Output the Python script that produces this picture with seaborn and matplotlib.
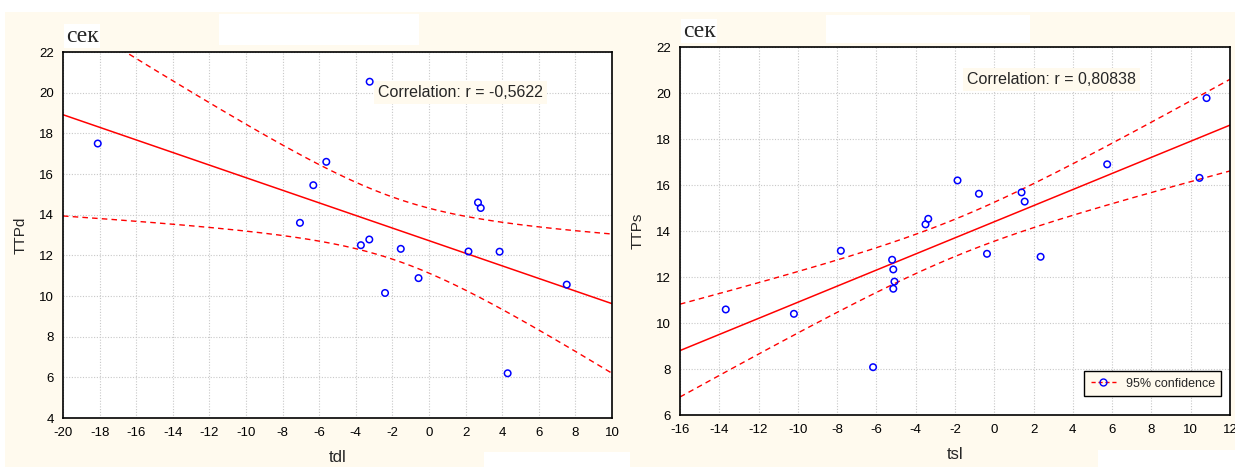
import numpy as np
import pandas as pd
import seaborn as sns
import matplotlib.pyplot as plt
from matplotlib.lines import Line2D
from matplotlib.patches import Rectangle

# left panel: tdl vs TTPd
tdl = [-18.1, -3.24, -5.61, -6.32, -7.05, 2.68, 2.83, -3.72, -3.26,
       -1.54, -2.4, -0.57, 2.16, 3.86, 4.3, 7.53]
ttpd = [17.5, 20.54, 16.6, 15.45, 13.6, 14.6, 14.33, 12.5, 12.78,
        12.32, 10.15, 10.88, 12.19, 12.18, 6.2, 10.56]

# right panel: tsl vs TTPs
tsl = [-13.67, -10.2, -7.81, -6.17, -5.2, -5.14, -5.08, -5.14, -0.37,
       2.36, -3.5, -3.36, -1.87, -0.78, 1.39, 1.55, 5.75, 10.45, 10.81]
ttps = [10.59, 10.4, 13.14, 8.08, 12.75, 12.33, 11.8, 11.49, 13.01,
        12.88, 14.29, 14.53, 16.2, 15.62, 15.68, 15.28, 16.9, 16.31, 19.78]

corr_labels = ["Correlation: r = -0,5622", "Correlation: r = 0,80838"]

CREAM = "#fffaee"
RED = "#ff0000"
BLUE = "#0000ff"

# two-sided 95% t quantiles for df = n - 2
T95 = {14: 2.145, 17: 2.110}


def conf_band(x, y, xs):
    """ Fitted line and 95% confidence band for the mean """
    x = np.asarray(x)
    y = np.asarray(y)
    n = len(x)
    b, a = np.polyfit(x, y, 1)
    resid = y - (a + b * x)
    s = np.sqrt(np.sum(resid ** 2) / (n - 2))
    sxx = np.sum((x - x.mean()) ** 2)
    fit = a + b * xs
    half = T95[n - 2] * s * np.sqrt(1.0 / n + (xs - x.mean()) ** 2 / sxx)
    return fit, fit - half, fit + half


def panel(ax, x, y, xlabel, ylabel, xlim, ylim):
    ax.set_facecolor("white")
    ax.set_xlim(*xlim)
    ax.set_ylim(*ylim)
    df = pd.DataFrame({xlabel: x, ylabel: y})
    xs = np.linspace(xlim[0], xlim[1], 200)
    fit, lo, hi = conf_band(x, y, xs)
    band = pd.DataFrame({"x": xs, "fit": fit, "lo": lo, "hi": hi})
    sns.lineplot(data=band, x="x", y="fit", ax=ax, color=RED, lw=1.1)
    sns.lineplot(data=band, x="x", y="lo", ax=ax, color=RED, lw=1.0,
                 linestyle=(0, (4, 3)))
    sns.lineplot(data=band, x="x", y="hi", ax=ax, color=RED, lw=1.0,
                 linestyle=(0, (4, 3)))
    sns.scatterplot(data=df, x=xlabel, y=ylabel, ax=ax, marker="o", s=22,
                    facecolor="none", edgecolor=BLUE, linewidth=1.1, zorder=5)
    ax.set_xticks(np.arange(xlim[0], xlim[1] + 1, 2))
    ax.set_yticks(np.arange(ylim[0], ylim[1] + 1, 2))
    ax.grid(True, color="#c8c8c8", linestyle=(0, (1, 1.5)), lw=0.8)
    ax.tick_params(labelsize=9.5, length=3, width=0.8, colors="black")
    for sp in ax.spines.values():
        sp.set_color("black")
        sp.set_linewidth(1.2)
    ax.set_xlabel(xlabel, fontsize=12, labelpad=8)
    ax.set_ylabel(ylabel, fontsize=11, labelpad=8)
    ax.text(0.005, 1.015, "сек", transform=ax.transAxes, fontsize=17,
            family="Liberation Serif", ha="left", va="bottom",
            bbox=dict(fc="white", ec="none", pad=1))
    return ax


sns.set_theme(style="white")
plt.rcParams['font.family'] = ['Liberation Sans', 'DejaVu Sans']
plt.rcParams['axes.unicode_minus'] = False

fig = plt.figure(figsize=(12.35, 4.67), dpi=100, facecolor="white")
# cream background of the scanned charts
fig.patches.append(Rectangle((0.004, 0.0), 0.996, 0.974, transform=fig.transFigure,
                             fc=CREAM, ec="none", zorder=-10))
# white cut-outs from the original scan
for (x0, y0, w, h) in [(0.177, 0.904, 0.162, 0.065), (0.669, 0.908, 0.165, 0.06),
                       (0.392, 0.0, 0.118, 0.032), (0.889, 0.0, 0.111, 0.036)]:
    fig.patches.append(Rectangle((x0, y0), w, h, transform=fig.transFigure,
                                 fc="white", ec="none", zorder=-9))

ax1 = fig.add_axes([0.0510, 0.1049, 0.4445, 0.7837])
ax2 = fig.add_axes([0.5506, 0.1113, 0.4453, 0.7880])

panel(ax1, tdl, ttpd, "tdl", "TTPd", (-20, 10), (4, 22))
panel(ax2, tsl, ttps, "tsl", "TTPs", (-16, 12), (6, 22))

ax1.text(-2.8, 20.0, corr_labels[0], fontsize=11.5, ha="left", va="center",
         bbox=dict(fc=CREAM, ec="none", pad=3))
ax2.text(-1.4, 20.6, corr_labels[1], fontsize=11.5, ha="left", va="center",
         bbox=dict(fc=CREAM, ec="none", pad=3))

handle = Line2D([], [], color=RED, linestyle=(0, (3, 2)), lw=1, marker="o",
                markersize=5, markerfacecolor="none", markeredgecolor=BLUE)
leg = ax2.legend([handle], ["95% confidence"], loc="lower right",
                 bbox_to_anchor=(0.995, 0.035), fontsize=9, frameon=True,
                 fancybox=False, handlelength=2.0, borderpad=0.5)
leg.get_frame().set_edgecolor("black")
leg.get_frame().set_facecolor(CREAM)
leg.get_frame().set_alpha(1)

fig.savefig("out.png", dpi=100, facecolor=fig.get_facecolor())
